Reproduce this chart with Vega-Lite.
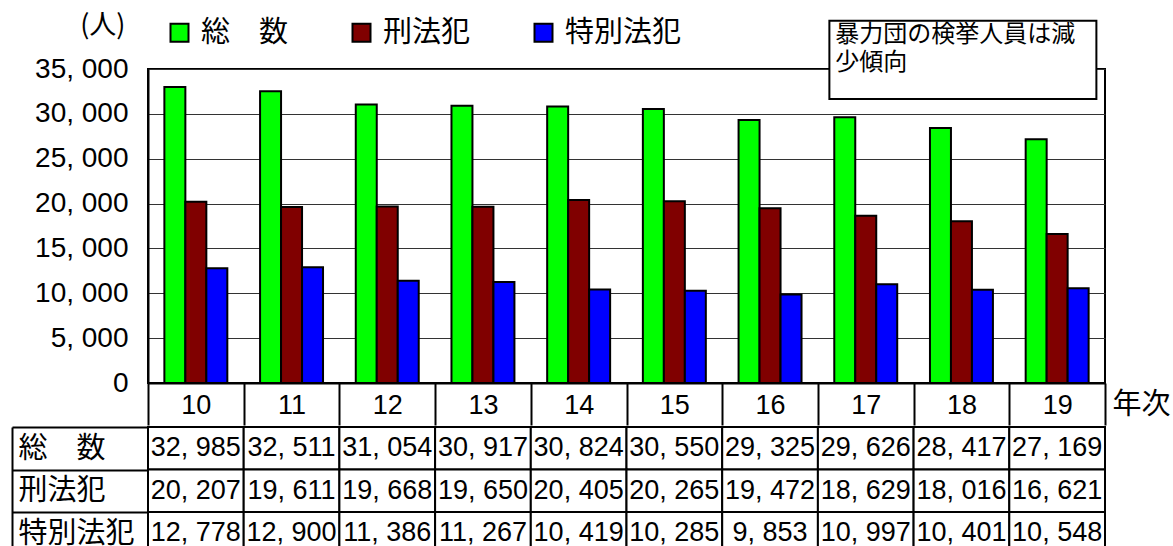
{
  "$schema": "https://vega.github.io/schema/vega-lite/v6.json",
  "padding": {"left": 11, "top": 10, "right": 0, "bottom": 0},
  "spacing": -18,
  "config": {
    "locale": {"number": {"decimal": ".", "thousands": ", ", "grouping": [3], "currency": ["", ""]}},
    "view": {"stroke": null},
    "font": "Liberation Sans"
  },
  "datasets": {
    "main": [
      {"year": "10", "series": "総　数", "value": 32985},
      {"year": "11", "series": "総　数", "value": 32511},
      {"year": "12", "series": "総　数", "value": 31054},
      {"year": "13", "series": "総　数", "value": 30917},
      {"year": "14", "series": "総　数", "value": 30824},
      {"year": "15", "series": "総　数", "value": 30550},
      {"year": "16", "series": "総　数", "value": 29325},
      {"year": "17", "series": "総　数", "value": 29626},
      {"year": "18", "series": "総　数", "value": 28417},
      {"year": "19", "series": "総　数", "value": 27169},
      {"year": "10", "series": "刑法犯", "value": 20207},
      {"year": "11", "series": "刑法犯", "value": 19611},
      {"year": "12", "series": "刑法犯", "value": 19668},
      {"year": "13", "series": "刑法犯", "value": 19650},
      {"year": "14", "series": "刑法犯", "value": 20405},
      {"year": "15", "series": "刑法犯", "value": 20265},
      {"year": "16", "series": "刑法犯", "value": 19472},
      {"year": "17", "series": "刑法犯", "value": 18629},
      {"year": "18", "series": "刑法犯", "value": 18016},
      {"year": "19", "series": "刑法犯", "value": 16621},
      {"year": "10", "series": "特別法犯", "value": 12778},
      {"year": "11", "series": "特別法犯", "value": 12900},
      {"year": "12", "series": "特別法犯", "value": 11386},
      {"year": "13", "series": "特別法犯", "value": 11267},
      {"year": "14", "series": "特別法犯", "value": 10419},
      {"year": "15", "series": "特別法犯", "value": 10285},
      {"year": "16", "series": "特別法犯", "value": 9853},
      {"year": "17", "series": "特別法犯", "value": 10997},
      {"year": "18", "series": "特別法犯", "value": 10401},
      {"year": "19", "series": "特別法犯", "value": 10548}
    ],
    "note": [{"note": "暴力団の検挙人員は減\n少傾向"}]
  },
  "vconcat": [
    {
      "width": 957,
      "height": 314,
      "view": {"stroke": "black", "strokeWidth": 2},
      "layer": [
        {
          "data": {"name": "main"},
          "mark": {"type": "bar", "stroke": "black", "strokeWidth": 2},
          "encoding": {
            "x": {
              "field": "year", "type": "nominal",
              "scale": {"paddingInner": 0, "paddingOuter": 0},
              "axis": {
                "orient": "bottom", "tickBand": "extent", "tickSize": 42, "tickWidth": 2, "tickColor": "black",
                "domainColor": "black", "domainWidth": 2, "labelFontSize": 27, "labelFont": "Liberation Sans",
                "labelColor": "black", "labelAngle": 0, "labelBaseline": "middle", "labelPadding": -20,
                "title": "年次", "titleFont": "Noto Sans CJK JP", "titleFontSize": 29, "titleFontWeight": "normal",
                "titleColor": "black", "titleX": 964, "titleY": 21, "titleAlign": "left", "titleBaseline": "middle"
              }
            },
            "xOffset": {
              "field": "series", "type": "nominal", "sort": ["総　数", "刑法犯", "特別法犯"],
              "scale": {"paddingInner": 0, "paddingOuter": 0.78}
            },
            "y": {
              "field": "value", "type": "quantitative",
              "scale": {"domain": [0, 35000], "nice": false},
              "axis": {
                "values": [0, 5000, 10000, 15000, 20000, 25000, 30000, 35000], "format": ",.0f",
                "labelFontSize": 28, "labelFont": "Liberation Sans", "labelColor": "black",
                "ticks": false, "labelPadding": 20, "domainColor": "black", "domainWidth": 2,
                "gridColor": "#333333", "gridWidth": 1,
                "title": "(人)", "titleAngle": 0, "titleFont": "Noto Sans CJK JP", "titleFontSize": 27,
                "titleFontWeight": "normal", "titleColor": "black", "titleAlign": "right", "titleBaseline": "middle",
                "titleX": -23, "titleY": -44
              }
            },
            "color": {
              "field": "series", "type": "nominal",
              "scale": {"domain": ["総　数", "刑法犯", "特別法犯"], "range": ["#00FF00", "#800000", "#0000FF"]},
              "legend": {
                "orient": "none", "legendX": 17, "legendY": -51, "direction": "horizontal", "title": null,
                "symbolType": "square", "symbolSize": 324, "symbolStrokeColor": "black", "symbolStrokeWidth": 2,
                "symbolOpacity": 1, "labelFont": "Noto Sans CJK JP", "labelFontSize": 29, "labelColor": "black",
                "labelOffset": 7, "columnPadding": 58, "padding": 0, "labelLimit": 300
              }
            }
          }
        },
        {
          "data": {"name": "note"},
          "mark": {"type": "rect", "fill": "white", "stroke": "black", "strokeWidth": 2},
          "encoding": {
            "x": {"datum": 7.12, "type": "quantitative", "scale": {"domain": [0, 10], "nice": false}, "axis": null},
            "x2": {"datum": 9.91},
            "y": {"datum": 40380, "type": "quantitative", "scale": {"domain": [0, 35000], "nice": false}},
            "y2": {"datum": 31660}
          }
        },
        {
          "data": {"name": "note"},
          "mark": {"type": "text", "font": "Noto Sans CJK JP", "fontSize": 24, "color": "black", "align": "left", "baseline": "top", "lineBreak": "\n", "lineHeight": 28},
          "encoding": {
            "x": {"datum": 7.18, "type": "quantitative", "scale": {"domain": [0, 10], "nice": false}, "axis": null},
            "y": {"datum": 40127, "type": "quantitative", "scale": {"domain": [0, 35000], "nice": false}},
            "text": {"field": "note", "type": "nominal"}
          }
        }
      ],
      "resolve": {"scale": {"x": "independent"}, "axis": {"x": "independent"}}
    },
    {
      "width": 957,
      "height": 127.5,
      "data": {"name": "main"},
      "encoding": {
        "x": {"field": "year", "type": "nominal", "scale": {"paddingInner": 0, "paddingOuter": 0}, "axis": null},
        "y": {
          "field": "series", "type": "nominal", "sort": ["総　数", "刑法犯", "特別法犯"],
          "scale": {"paddingInner": 0, "paddingOuter": 0},
          "axis": {
            "orient": "left", "offset": 136, "tickBand": "extent", "tickSize": -136, "tickWidth": 2, "tickColor": "black",
            "domainColor": "black", "domainWidth": 2, "labelAlign": "left", "labelBaseline": "middle", "labelPadding": 130,
            "labelFont": "Noto Sans CJK JP", "labelFontSize": 29, "labelColor": "black", "title": null, "grid": false
          }
        }
      },
      "layer": [
        {"mark": {"type": "rect", "fill": "white", "stroke": "black", "strokeWidth": 2}},
        {
          "mark": {"type": "text", "fontSize": 27, "font": "Liberation Sans", "color": "black"},
          "encoding": {"text": {"field": "value", "type": "quantitative", "format": ","}}
        }
      ]
    }
  ]
}
